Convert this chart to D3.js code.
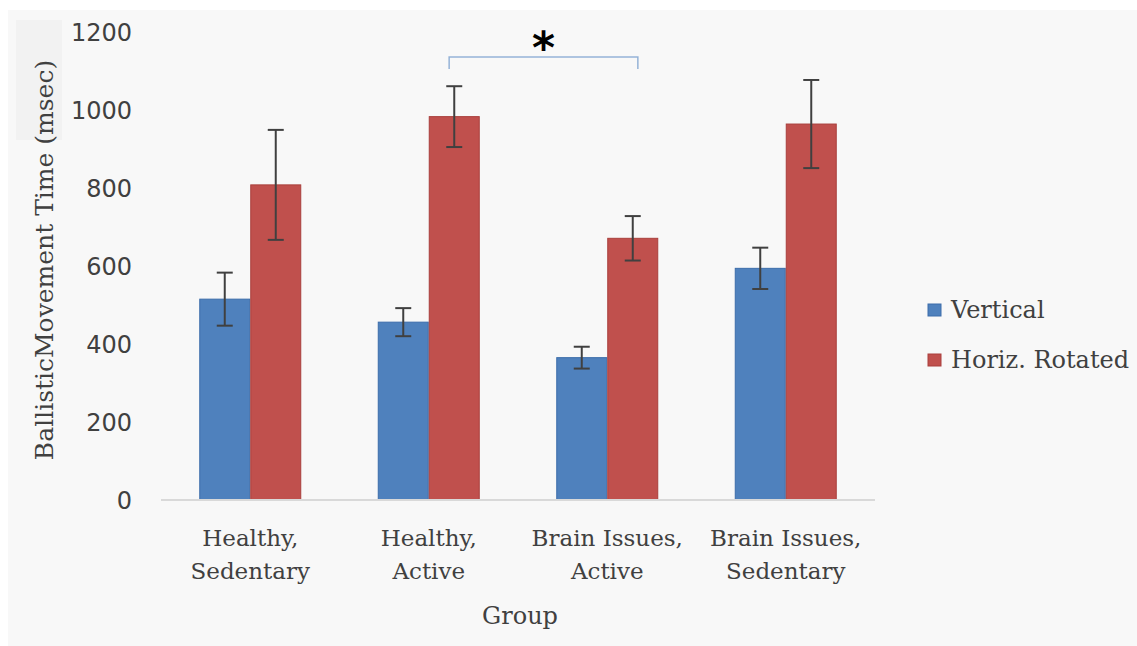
<!DOCTYPE html>
<html>
<head>
<meta charset="utf-8">
<script src="https://cdn.jsdelivr.net/npm/d3@7"></script>
<style>
  html, body { margin: 0; padding: 0; background: #ffffff; }
  svg { display: block; }
  text { font-family: "DejaVu Serif", serif; fill: #404040; }
</style>
</head>
<body>
<svg id="chart" width="1137" height="646"></svg>
<script>
// Group means and standard errors (msec)
const groups = ["Healthy, Sedentary", "Healthy, Active", "Brain Issues, Active", "Brain Issues, Sedentary"];
const groupLines = [["Healthy,", "Sedentary"], ["Healthy,", "Active"], ["Brain Issues,", "Active"], ["Brain Issues,", "Sedentary"]];
const seriesNames = ["Vertical", "Horiz. Rotated"];
const verticalValues = [515, 456, 365, 594];
const horizRotatedValues = [808, 983, 671, 964];
const verticalErrors = [68, 36, 28, 53];
const horizRotatedErrors = [141, 78, 57, 113];
const yTicks = [0, 200, 400, 600, 800, 1000, 1200];
const seriesColors = ["#4F81BD", "#C0504D"];
const seriesStrokes = ["#3C6DAA", "#A93F3C"];

const svg = d3.select("#chart");
const W = 1137, H = 646;

// chart area background
svg.append("rect").attr("x", 8).attr("y", 10).attr("width", W - 8).attr("height", H - 10).attr("fill", "#f8f8f8");
svg.append("rect").attr("x", 16).attr("y", 20).attr("width", 46).attr("height", 120).attr("fill", "#f2f2f2");

const plot = { left: 161, right: 875, top: 32, bottom: 500 };

const y = d3.scaleLinear().domain([0, 1200]).range([plot.bottom, plot.top]);
const x0 = d3.scaleBand().domain(groups).range([plot.left, plot.right]).paddingInner(0.4286).paddingOuter(0.2143);
const x1 = d3.scaleBand().domain(seriesNames).range([0, x0.bandwidth()]).padding(0);

const rows = groups.map((g, i) => ({
  group: g,
  bars: [
    { s: seriesNames[0], v: verticalValues[i], e: verticalErrors[i], c: 0 },
    { s: seriesNames[1], v: horizRotatedValues[i], e: horizRotatedErrors[i], c: 1 }
  ]
}));

// y axis (labels only)
const yAxis = d3.axisLeft(y).tickValues(yTicks).tickFormat(d3.format("d")).tickSize(0).tickPadding(0);
const yg = svg.append("g").attr("transform", `translate(132,0)`).call(yAxis);
yg.select(".domain").remove();
yg.selectAll("text").style("font-family", "DejaVu Sans, sans-serif").attr("font-size", 24).attr("fill", "#404040").attr("dy", "0.35em");

// bars
const gG = svg.selectAll("g.grp").data(rows).join("g").attr("class", "grp")
  .attr("transform", d => `translate(${x0(d.group)},0)`);
gG.selectAll("rect").data(d => d.bars).join("rect")
  .attr("x", d => x1(d.s) + 0.5)
  .attr("width", x1.bandwidth() - 1)
  .attr("y", d => y(d.v))
  .attr("height", d => y(0) - y(d.v))
  .attr("fill", d => seriesColors[d.c])
  .attr("stroke", d => seriesStrokes[d.c])
  .attr("stroke-width", 1);

// baseline
svg.append("line").attr("x1", plot.left).attr("x2", plot.right).attr("y1", y(0)).attr("y2", y(0))
  .attr("stroke", "#d9d9d9").attr("stroke-width", 2);

// error bars
const cap = 8;
const eb = gG.selectAll("g.err").data(d => d.bars).join("g").attr("class", "err")
  .attr("stroke", "#404040").attr("stroke-width", 2);
eb.append("line").attr("x1", d => x1(d.s) + x1.bandwidth() / 2).attr("x2", d => x1(d.s) + x1.bandwidth() / 2)
  .attr("y1", d => y(d.v + d.e)).attr("y2", d => y(d.v - d.e));
eb.append("line").attr("x1", d => x1(d.s) + x1.bandwidth() / 2 - cap).attr("x2", d => x1(d.s) + x1.bandwidth() / 2 + cap)
  .attr("y1", d => y(d.v + d.e)).attr("y2", d => y(d.v + d.e));
eb.append("line").attr("x1", d => x1(d.s) + x1.bandwidth() / 2 - cap).attr("x2", d => x1(d.s) + x1.bandwidth() / 2 + cap)
  .attr("y1", d => y(d.v - d.e)).attr("y2", d => y(d.v - d.e));

// significance bracket between the two "Active" groups
const bx1 = x0(groups[1]) + 0.70 * x0.bandwidth();
const bx2 = x0(groups[2]) + 0.80 * x0.bandwidth();
const by = y(1136);
svg.append("path")
  .attr("d", `M${bx1},${by + 12}V${by}H${bx2}V${by + 12}`)
  .attr("fill", "none").attr("stroke", "#95B3D7").attr("stroke-width", 1.5);
svg.append("text").attr("x", (bx1 + bx2) / 2).attr("y", by + 6).attr("text-anchor", "middle")
  .style("font-family", "DejaVu Sans, sans-serif").attr("font-weight", "bold").attr("font-size", 44)
  .style("fill", "#000").text("*");

// category labels
const xl = svg.selectAll("text.xl").data(groups).join("text").attr("class", "xl")
  .attr("x", d => x0(d) + x0.bandwidth() / 2).attr("y", 546).attr("text-anchor", "middle").attr("font-size", 23);
xl.selectAll("tspan").data((d, i) => groupLines[i]).join("tspan")
  .attr("x", function () { return this.parentNode.getAttribute("x"); })
  .attr("dy", (d, i) => i === 0 ? 0 : 33).text(d => d);

// axis titles
svg.append("text").attr("x", (plot.left + plot.right) / 2 + 2).attr("y", 624).attr("text-anchor", "middle")
  .attr("font-size", 24).text("Group");
svg.append("text").attr("transform", "translate(53,260) rotate(-90)").attr("text-anchor", "middle")
  .attr("font-size", 25).text("BallisticMovement Time (msec)");

// legend
const lg = svg.selectAll("g.lg").data(seriesNames).join("g").attr("class", "lg")
  .attr("transform", (d, i) => `translate(928,${304 + i * 50})`);
lg.append("rect").attr("width", 13).attr("height", 12).attr("fill", (d, i) => seriesColors[i])
  .attr("stroke", (d, i) => seriesStrokes[i]).attr("stroke-width", 1);
lg.append("text").attr("x", 23).attr("y", 14).attr("font-size", 24).text(d => d);
</script>
</body>
</html>
